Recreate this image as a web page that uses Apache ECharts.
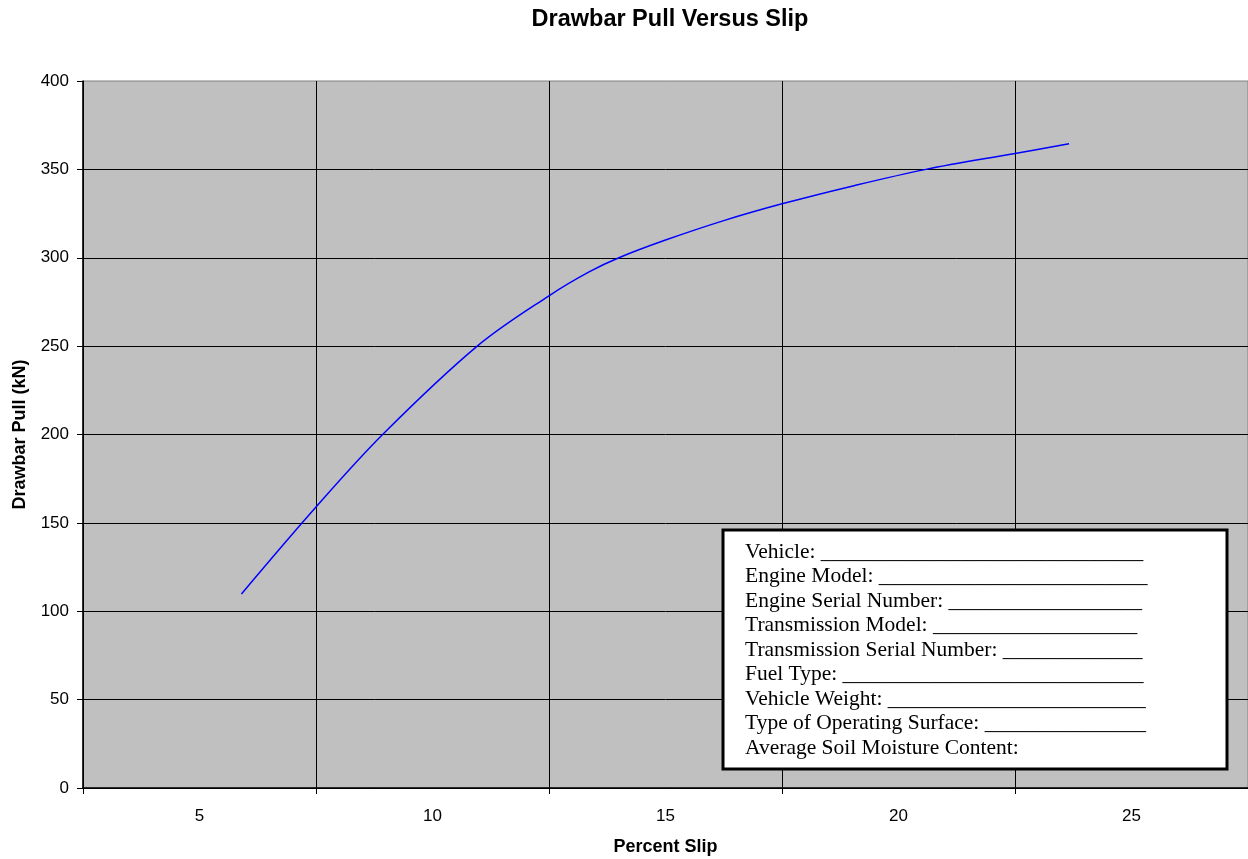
<!DOCTYPE html>
<html>
<head>
<meta charset="utf-8">
<script src="https://cdn.jsdelivr.net/npm/echarts@6/dist/echarts.min.js"></script>
<style>
html,body{margin:0;padding:0;background:#fff;}
#chart{width:1248px;height:859px;}
</style>
</head>
<body>
<div id="chart"></div>
<script>
// ---- Data ----
var xCategoryLabels = ['5', '10', '15', '20', '25'];
var slipPct     = [5.9, 7.5, 8.93, 10.96, 12.5, 13.36, 14.0, 15.0, 16.25, 17.5, 19.0, 20.59, 22.5, 23.66];
var drawbarPull = [109.8, 159, 200, 250, 278.5, 292, 300, 310, 321, 330.5, 340.5, 350, 359, 364.5];
var yTicks = [0, 50, 100, 150, 200, 250, 300, 350, 400];
var infoLines = [
  'Vehicle: ______________________________',
  'Engine Model: _________________________',
  'Engine Serial Number: __________________',
  'Transmission Model: ___________________',
  'Transmission Serial Number: _____________',
  'Fuel Type: ____________________________',
  'Vehicle Weight: ________________________',
  'Type of Operating Surface: _______________',
  'Average Soil Moisture Content:'
];

var seriesData = slipPct.map(function (x, i) { return [x, drawbarPull[i]]; });

var chart = echarts.init(document.getElementById('chart'), null, {renderer: 'canvas'});
var FONT = 'Arial, "Liberation Sans", sans-serif';

chart.setOption({
  animation: false,
  backgroundColor: '#ffffff',
  title: {
    text: 'Drawbar Pull Versus Slip',
    left: 665,
    textAlign: 'center',
    top: 3,
    textStyle: {fontFamily: FONT, fontSize: 23.5, fontWeight: 'bold', color: '#000'}
  },
  grid: {
    left: 83, right: 0, top: 81, bottom: 71,
    containLabel: false,
    outerBoundsMode: 'none',
    show: true,
    backgroundColor: '#C0C0C0',
    borderColor: '#808080',
    borderWidth: 1
  },
  xAxis: [
    {
      type: 'category',
      data: xCategoryLabels,
      boundaryGap: true,
      name: 'Percent Slip',
      nameLocation: 'middle',
      nameGap: 50,
      nameTextStyle: {fontFamily: FONT, fontSize: 18, fontWeight: 'bold', color: '#000'},
      axisLine: {show: true, lineStyle: {color: '#000', width: 1.5}},
      axisTick: {show: true, interval: 0, length: 6, lineStyle: {color: '#000'}},
      axisLabel: {interval: 0, margin: 20, fontFamily: FONT, fontSize: 17, color: '#000'},
      splitLine: {show: true, interval: 0, lineStyle: {color: '#000', width: 1}}
    },
    {
      type: 'value',
      min: 2.5,
      max: 27.5,
      show: false,
      splitLine: {show: false}
    }
  ],
  yAxis: {
    type: 'value',
    min: yTicks[0],
    max: yTicks[yTicks.length - 1],
    interval: 50,
    name: 'Drawbar Pull (kN)',
    nameLocation: 'middle',
    nameGap: 54,
    nameTextStyle: {fontFamily: FONT, fontSize: 18, fontWeight: 'bold', color: '#000'},
    axisLine: {show: true, lineStyle: {color: '#000', width: 1.5}},
    axisTick: {show: true, length: 6, lineStyle: {color: '#000'}},
    axisLabel: {margin: 14, fontFamily: FONT, fontSize: 17, color: '#000'},
    splitLine: {show: true, showMaxLine: false, lineStyle: {color: '#000', width: 1}}
  },
  series: [{
    type: 'line',
    xAxisIndex: 1,
    yAxisIndex: 0,
    data: seriesData,
    smooth: 0.35,
    symbol: 'none',
    lineStyle: {color: '#0000FF', width: 1.5},
    z: 3
  }],
  graphic: [
    {
      type: 'rect',
      shape: {x: 723, y: 530, width: 504, height: 239},
      style: {fill: '#ffffff', stroke: '#000', lineWidth: 3},
      z: 10
    },
    {
      type: 'text',
      x: 745,
      y: 540,
      style: {
        text: infoLines.join('\n'),
        font: '21.5px "Liberation Serif", "Times New Roman", serif',
        fill: '#000',
        lineHeight: 24.5,
        verticalAlign: 'top'
      },
      z: 11
    }
  ]
});
</script>
</body>
</html>
